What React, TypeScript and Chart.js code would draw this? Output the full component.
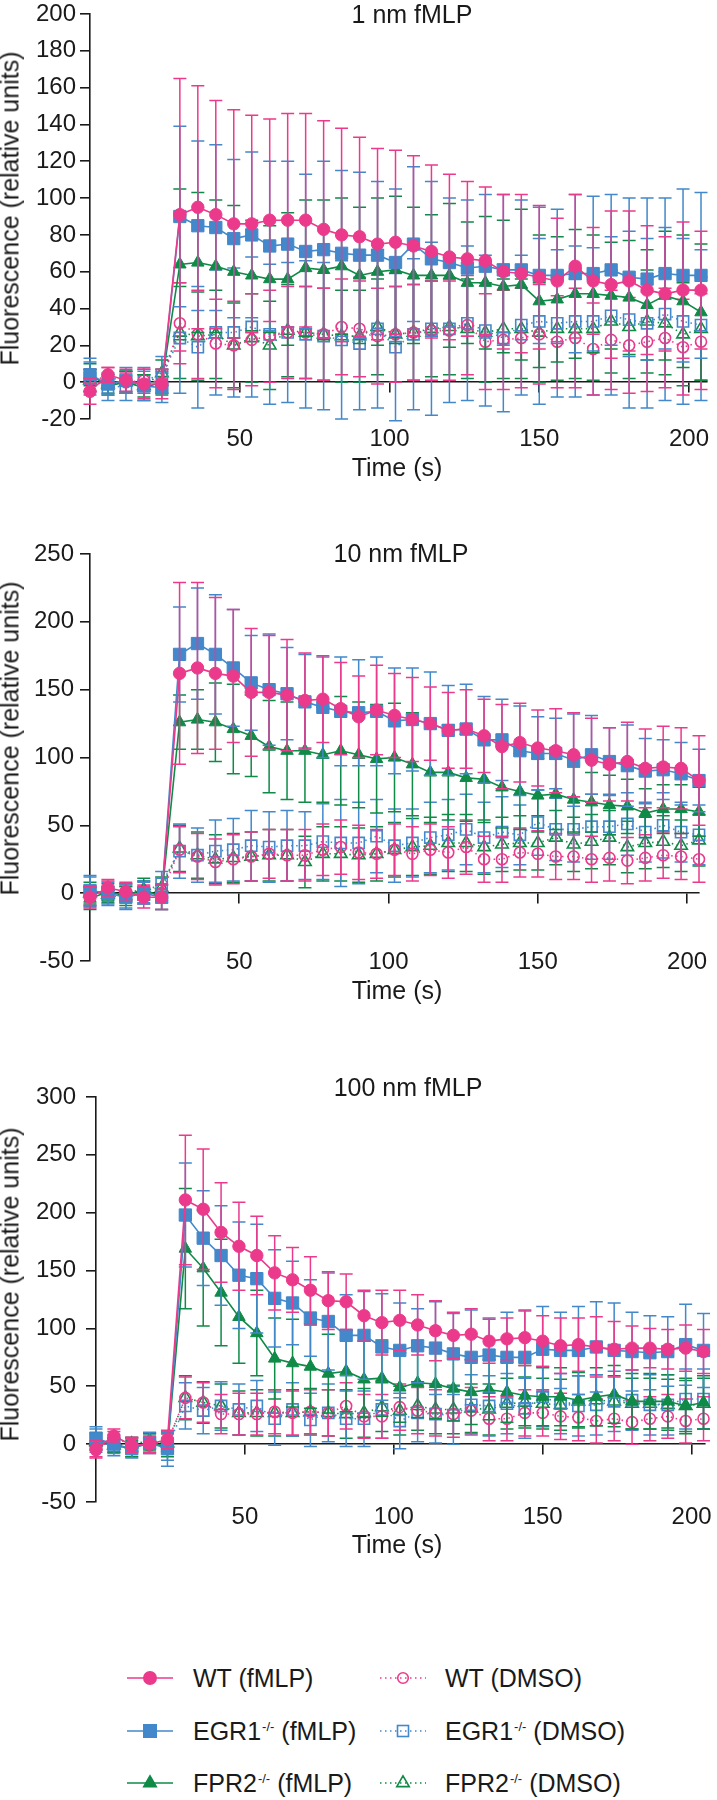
import React, { useEffect, useRef } from 'react';
import { Chart, registerables } from 'chart.js';

Chart.register(...registerables);

const FONT = '"Liberation Sans", Arial, Helvetica, sans-serif';
const INK = '#1a1a1a';
const PINK = '#EB3A8C';
const BLUE = '#4288CA';
const GREEN = '#0F8A47';
const PAGE_W = 717;
const TEXT_SIZE = 25;
const TICK_SIZE = 24;

// ---------------- data ----------------
const TIME = [0, 6, 12, 18, 24, 30, 36, 42, 48, 54, 60, 66, 72, 78, 84, 90, 96, 102, 108, 114, 120, 126, 132, 138, 144, 150, 156, 162, 168, 174, 180, 186, 192, 198, 204];
const X_TICKS = [50, 100, 150, 200];
const Y_TICKS_1 = [-20, 0, 20, 40, 60, 80, 100, 120, 140, 160, 180, 200];
const Y_TICKS_2 = [-50, 0, 50, 100, 150, 200, 250];
const Y_TICKS_3 = [-50, 0, 50, 100, 150, 200, 250, 300];
const PANEL_TITLES = ['1 nm fMLP', '10 nm fMLP', '100 nm fMLP'];
const X_TITLE = 'Time (s)';
const Y_TITLE = 'Fluorescence (relative units)';

const GENOTYPES = ['WT', 'EGR1', 'FPR2', 'WT', 'EGR1', 'FPR2'];
const KO_MARK = ['', '-/-', '-/-', '', '-/-', '-/-'];
const TREATMENTS = ['(fMLP)', '(fMLP)', '(fMLP)', '(DMSO)', '(DMSO)', '(DMSO)'];

// 1 nm fMLP
const WT_FMLP_1 = [-5, 4, 1, -1, -1, 91, 95, 91, 86, 86, 88, 88, 88, 83, 80, 79, 75, 76, 74, 71, 68, 67, 66, 60, 59, 57, 55, 63, 55, 53, 55, 50, 48, 50, 50];
const WT_FMLP_1_SD = [7, 4, 6, 8, 8, 74, 66, 62, 62, 59, 55, 58, 58, 59, 58, 54, 52, 50, 49, 47, 45, 42, 40, 42, 43, 39, 34, 39, 29, 40, 38, 35, 31, 37, 32];
const EGR1_FMLP_1 = [4, -1, 1, -2, -3, 90, 85, 84, 78, 80, 74, 75, 71, 72, 70, 69, 69, 65, 75, 67, 65, 62, 63, 61, 61, 58, 58, 59, 59, 61, 57, 56, 59, 58, 58];
const EGR1_FMLP_1_SD = [9, 6, 7, 8, 8, 49, 46, 45, 43, 45, 46, 45, 42, 48, 45, 45, 40, 40, 42, 42, 35, 37, 39, 41, 38, 37, 36, 43, 42, 41, 43, 44, 41, 47, 45];
const FPR2_FMLP_1 = [4, -2, 0, -3, 0, 64, 65, 63, 60, 58, 56, 56, 62, 61, 63, 58, 60, 61, 58, 58, 58, 54, 54, 52, 53, 44, 45, 48, 48, 47, 46, 42, 47, 44, 38];
const FPR2_FMLP_1_SD = [6, 5, 6, 7, 7, 41, 38, 36, 36, 30, 29, 36, 37, 38, 37, 37, 40, 40, 37, 33, 39, 33, 36, 36, 41, 36, 34, 35, 32, 29, 31, 30, 35, 36, 37];
const WT_DMSO_1 = [1, 3, 0, 1, 0, 32, 26, 21, 20, 23, 25, 27, 27, 26, 30, 29, 25, 26, 27, 28, 28, 31, 22, 23, 24, 26, 22, 24, 18, 23, 20, 22, 24, 19, 22];
const WT_DMSO_1_SD = [6, 5, 5, 6, 6, 22, 24, 24, 24, 25, 25, 25, 25, 25, 26, 26, 26, 26, 26, 27, 27, 27, 26, 27, 27, 27, 25, 27, 25, 27, 26, 27, 27, 26, 26];
const EGR1_DMSO_1 = [2, -3, -2, 1, 4, 24, 19, 27, 27, 30, 26, 27, 26, 25, 23, 21, 29, 19, 26, 29, 29, 32, 28, 24, 31, 33, 32, 33, 33, 36, 34, 32, 37, 33, 31];
const EGR1_DMSO_1_SD = [9, 7, 8, 7, 10, 30, 33, 34, 35, 38, 38, 38, 40, 40, 43, 36, 43, 40, 41, 47, 40, 42, 41, 40, 38, 45, 40, 41, 40, 43, 48, 46, 47, 45, 41];
const FPR2_DMSO_1 = [1, -1, 0, -2, 5, 27, 25, 26, 20, 24, 20, 28, 27, 26, 25, 25, 30, 26, 27, 29, 30, 29, 27, 29, 29, 27, 29, 29, 29, 33, 30, 33, 32, 26, 29];
const FPR2_DMSO_1_SD = [6, 5, 6, 6, 7, 25, 24, 24, 23, 24, 24, 25, 25, 25, 25, 25, 26, 26, 26, 26, 26, 27, 27, 27, 27, 27, 28, 27, 28, 28, 28, 28, 28, 28, 28];

// 10 nm fMLP
const WT_FMLP_2 = [-3, 4, 1, -3, -3, 162, 166, 162, 160, 148, 148, 146, 142, 143, 136, 130, 135, 131, 128, 125, 120, 121, 116, 108, 111, 107, 105, 102, 98, 95, 97, 92, 93, 92, 83];
const WT_FMLP_2_SD = [8, 6, 7, 8, 9, 67, 63, 56, 49, 47, 42, 41, 35, 32, 34, 30, 33, 31, 31, 27, 28, 29, 27, 31, 29, 28, 31, 31, 31, 27, 29, 29, 30, 30, 33];
const EGR1_FMLP_2 = [2, 0, -3, 0, -3, 176, 184, 176, 166, 155, 150, 147, 141, 137, 134, 133, 134, 127, 128, 125, 120, 121, 113, 113, 105, 103, 103, 98, 102, 97, 94, 90, 91, 88, 83];
const EGR1_FMLP_2_SD = [11, 8, 9, 8, 9, 35, 41, 44, 43, 35, 41, 34, 35, 37, 40, 39, 40, 39, 38, 38, 33, 33, 32, 30, 33, 27, 26, 34, 29, 25, 30, 24, 22, 23, 23];
const FPR2_FMLP_2 = [-4, 1, -2, 3, -3, 126, 128, 126, 121, 116, 108, 105, 105, 102, 105, 102, 99, 100, 95, 89, 89, 85, 84, 78, 75, 72, 73, 69, 67, 65, 64, 59, 62, 62, 60];
const FPR2_FMLP_2_SD = [8, 6, 7, 8, 9, 20, 22, 29, 33, 30, 34, 36, 38, 35, 40, 39, 40, 40, 38, 37, 35, 32, 32, 30, 28, 27, 26, 24, 22, 22, 20, 18, 18, 18, 18];
const WT_DMSO_2 = [-2, 3, 1, -1, 0, 32, 27, 23, 25, 27, 29, 28, 28, 32, 34, 30, 29, 32, 29, 32, 30, 34, 25, 25, 30, 29, 27, 27, 25, 26, 24, 26, 28, 27, 25];
const WT_DMSO_2_SD = [7, 6, 6, 7, 7, 17, 17, 17, 18, 18, 18, 19, 19, 19, 20, 20, 18, 19, 20, 19, 19, 20, 17, 17, 18, 17, 17, 17, 17, 17, 17, 17, 17, 17, 17];
const EGR1_DMSO_2 = [1, -2, -3, 1, 7, 31, 28, 31, 32, 35, 34, 35, 35, 38, 37, 37, 42, 35, 37, 41, 43, 47, 41, 45, 43, 52, 47, 47, 49, 49, 51, 45, 50, 45, 43];
const EGR1_DMSO_2_SD = [11, 7, 8, 8, 9, 20, 20, 23, 23, 26, 26, 26, 25, 28, 32, 30, 27, 27, 25, 26, 26, 26, 26, 26, 22, 24, 23, 24, 24, 24, 23, 22, 24, 22, 22];
const FPR2_DMSO_2 = [0, -1, 1, 2, 4, 33, 28, 25, 26, 27, 28, 28, 23, 29, 29, 28, 29, 32, 34, 35, 37, 37, 34, 36, 37, 37, 41, 36, 38, 41, 34, 37, 38, 35, 39];
const FPR2_DMSO_2_SD = [8, 6, 6, 7, 8, 17, 17, 18, 18, 18, 19, 19, 19, 20, 20, 20, 20, 20, 21, 21, 21, 21, 20, 20, 20, 20, 20, 20, 20, 20, 19, 19, 19, 19, 19];

// 100 nm fMLP
const WT_FMLP_3 = [-4, 7, -1, 0, 4, 211, 203, 183, 171, 163, 148, 142, 133, 124, 123, 111, 105, 107, 103, 98, 94, 95, 89, 91, 92, 89, 85, 86, 84, 82, 83, 83, 82, 83, 80];
const WT_FMLP_3_SD = [7, 6, 6, 7, 8, 56, 52, 43, 38, 34, 32, 28, 29, 25, 24, 22, 28, 26, 26, 26, 20, 22, 19, 18, 24, 22, 24, 23, 26, 24, 19, 17, 17, 20, 19];
const EGR1_FMLP_3 = [5, 0, -4, 1, -4, 198, 178, 163, 146, 143, 126, 122, 109, 106, 94, 94, 84, 81, 85, 83, 78, 75, 77, 75, 75, 82, 81, 81, 84, 81, 80, 79, 80, 86, 81];
const EGR1_FMLP_3_SD = [10, 8, 8, 9, 15, 45, 41, 43, 46, 47, 42, 36, 33, 42, 35, 38, 46, 41, 32, 40, 35, 41, 32, 39, 40, 37, 33, 38, 39, 41, 34, 32, 30, 35, 32];
const FPR2_FMLP_3 = [4, -1, -4, 2, -3, 169, 152, 131, 110, 96, 74, 70, 67, 61, 63, 56, 57, 49, 53, 52, 48, 45, 47, 45, 42, 41, 41, 38, 41, 43, 37, 37, 37, 33, 36];
const FPR2_FMLP_3_SD = [6, 6, 7, 7, 8, 52, 50, 46, 40, 37, 35, 38, 36, 34, 35, 33, 33, 30, 30, 30, 28, 28, 26, 26, 26, 25, 25, 24, 25, 25, 24, 24, 23, 24, 23];
const WT_DMSO_3 = [-5, 5, 0, -1, 2, 40, 36, 26, 26, 26, 28, 27, 28, 27, 33, 24, 24, 32, 29, 27, 26, 29, 22, 22, 27, 27, 24, 23, 20, 22, 19, 22, 24, 20, 22];
const WT_DMSO_3_SD = [7, 6, 6, 7, 7, 18, 17, 17, 18, 18, 19, 19, 19, 20, 20, 19, 19, 20, 20, 20, 20, 20, 19, 19, 20, 20, 20, 20, 19, 19, 19, 19, 19, 19, 19];
const EGR1_DMSO_3 = [3, -2, -3, 1, -2, 33, 29, 33, 30, 33, 22, 30, 21, 27, 22, 22, 30, 20, 27, 26, 25, 34, 33, 35, 31, 41, 35, 33, 34, 37, 38, 34, 34, 39, 39];
const EGR1_DMSO_3_SD = [10, 8, 8, 8, 12, 20, 20, 21, 22, 22, 23, 23, 23, 25, 24, 24, 25, 24, 25, 25, 25, 26, 26, 26, 26, 26, 26, 26, 26, 26, 26, 26, 26, 26, 26];
const FPR2_DMSO_3 = [2, -1, 0, 3, 1, 40, 36, 33, 27, 27, 27, 27, 28, 27, 26, 27, 32, 29, 33, 30, 30, 31, 30, 35, 36, 35, 34, 37, 38, 37, 35, 35, 34, 33, 35];
const FPR2_DMSO_3_SD = [7, 6, 6, 7, 8, 19, 18, 19, 19, 20, 20, 20, 20, 20, 21, 21, 21, 21, 21, 21, 21, 21, 22, 22, 22, 22, 22, 22, 22, 22, 22, 22, 22, 22, 22];

// ---------------- styling / layout ----------------
const SERIES_STYLE = [
  { color: PINK, shape: 'circle', filled: true, radius: 6.2 },
  { color: BLUE, shape: 'rect', filled: true, radius: 8.7 },
  { color: GREEN, shape: 'triangle', filled: true, radius: 7.2 },
  { color: PINK, shape: 'circle', filled: false, radius: 5.5 },
  { color: BLUE, shape: 'rect', filled: false, radius: 7.9 },
  { color: GREEN, shape: 'triangle', filled: false, radius: 7.2 },
];

const PANELS = [
  {
    title: PANEL_TITLES[0],
    means: [WT_FMLP_1, EGR1_FMLP_1, FPR2_FMLP_1, WT_DMSO_1, EGR1_DMSO_1, FPR2_DMSO_1],
    sds: [WT_FMLP_1_SD, EGR1_FMLP_1_SD, FPR2_FMLP_1_SD, WT_DMSO_1_SD, EGR1_DMSO_1_SD, FPR2_DMSO_1_SD],
    yMin: -20, yMax: 200, yTicks: Y_TICKS_1, xMax: 206,
    canvasTop: -10, canvasHeight: 500,
    area: { left: 90, right: 707, top: 14, bottom: 419 },
    yTickPad: 4, xLabelPad: 5.6,
    titleX: 412, titleY: 14, xTitleX: 397, xTitleY: 467, yTitleY: 208,
  },
  {
    title: PANEL_TITLES[1],
    means: [WT_FMLP_2, EGR1_FMLP_2, FPR2_FMLP_2, WT_DMSO_2, EGR1_DMSO_2, FPR2_DMSO_2],
    sds: [WT_FMLP_2_SD, EGR1_FMLP_2_SD, FPR2_FMLP_2_SD, WT_DMSO_2_SD, EGR1_DMSO_2_SD, FPR2_DMSO_2_SD],
    yMin: -50, yMax: 250, yTicks: Y_TICKS_2, xMax: 204,
    canvasTop: 520, canvasHeight: 490,
    area: { left: 90, right: 699, top: 554, bottom: 961 },
    yTickPad: 6, xLabelPad: -12.9,
    titleX: 401, titleY: 553, xTitleX: 397, xTitleY: 990, yTitleY: 738,
  },
  {
    title: PANEL_TITLES[2],
    means: [WT_FMLP_3, EGR1_FMLP_3, FPR2_FMLP_3, WT_DMSO_3, EGR1_DMSO_3, FPR2_DMSO_3],
    sds: [WT_FMLP_3_SD, EGR1_FMLP_3_SD, FPR2_FMLP_3_SD, WT_DMSO_3_SD, EGR1_DMSO_3_SD, FPR2_DMSO_3_SD],
    yMin: -50, yMax: 300, yTicks: Y_TICKS_3, xMax: 204.5,
    canvasTop: 1060, canvasHeight: 500,
    area: { left: 96, right: 705, top: 1097, bottom: 1502 },
    yTickPad: 10, xLabelPad: 0.6,
    titleX: 408, titleY: 1087, xTitleX: 397, xTitleY: 1544, yTitleY: 1284,
  },
];

const Y_TITLE_X = 9.5;
const LEGEND_ROW_Y = [1678, 1731, 1783];
const LEGEND_COLS = [
  { symLeft: 127, symWidth: 46, textLeft: 193 },
  { symLeft: 380, symWidth: 46, textLeft: 445 },
];
// offset from the top of a text line box to the centre of its capital letters
const CAP_CENTER = TEXT_SIZE * 0.49;

// ---------------- error bar plugin ----------------
const errorBarPlugin = {
  id: 'errorBars',
  beforeDatasetDraw(chart: any, args: any) {
    const ds = chart.data.datasets[args.index];
    const sd: number[] | undefined = ds.errors;
    if (!sd) return;
    const yScale = chart.scales.y;
    const ctx = chart.ctx;
    const cap = 6.5;
    ctx.save();
    ctx.setLineDash([]);
    ctx.strokeStyle = ds.borderColor;
    ctx.lineWidth = 1.5;
    args.meta.data.forEach((pt: any, i: number) => {
      const v = ds.data[i].y;
      const e = sd[i];
      const x = pt.x;
      const yt = yScale.getPixelForValue(v + e);
      const yb = yScale.getPixelForValue(v - e);
      ctx.beginPath();
      ctx.moveTo(x, yt);
      ctx.lineTo(x, yb);
      ctx.moveTo(x - cap, yt);
      ctx.lineTo(x + cap, yt);
      ctx.moveTo(x - cap, yb);
      ctx.lineTo(x + cap, yb);
      ctx.stroke();
    });
    ctx.restore();
  },
};

function buildConfig(p: any) {
  const padTop = p.area.top - p.canvasTop;
  const padBottom = p.canvasTop + p.canvasHeight - p.area.bottom;
  const padRight = PAGE_W - p.area.right;
  const tickFont = { family: FONT, size: TICK_SIZE };

  const datasets = SERIES_STYLE.map((s, k) => ({
    label: `${GENOTYPES[k]}${KO_MARK[k]} ${TREATMENTS[k]}`,
    data: TIME.map((t, i) => ({ x: t, y: p.means[k][i] })),
    errors: p.sds[k],
    borderColor: s.color,
    backgroundColor: s.filled ? s.color : 'rgba(0,0,0,0)',
    borderWidth: 1.6,
    borderDash: s.filled ? [] : [1.5, 3.5],
    pointStyle: s.shape,
    pointRadius: s.radius,
    pointHoverRadius: s.radius,
    pointBorderWidth: s.filled ? 1 : 1.6,
    pointBackgroundColor: s.filled ? s.color : 'rgba(0,0,0,0)',
    pointBorderColor: s.color,
    tension: 0,
    fill: false,
    clip: false,
  }));

  const xTicks = (s: any) => {
    s.ticks = X_TICKS.map((v) => ({ value: v }));
  };

  return {
    type: 'line',
    data: { datasets },
    plugins: [errorBarPlugin],
    options: {
      animation: false,
      responsive: false,
      devicePixelRatio: 1,
      events: [],
      layout: { padding: { left: 0, right: padRight, top: padTop, bottom: padBottom } },
      plugins: {
        legend: { display: false },
        tooltip: { enabled: false },
        title: { display: false },
      },
      scales: {
        x: {
          type: 'linear',
          min: 0,
          max: p.xMax,
          position: { y: 0 },
          afterBuildTicks: xTicks,
          ticks: { display: false },
          grid: { display: true, drawOnChartArea: false, drawTicks: true, tickLength: 10, color: INK, lineWidth: 1.6 },
          border: { display: true, color: INK, width: 1.6 },
        },
        x2: {
          type: 'linear',
          axis: 'x',
          min: 0,
          max: p.xMax,
          position: { y: p.yMin },
          afterBuildTicks: xTicks,
          ticks: { display: true, padding: p.xLabelPad, font: tickFont, color: INK, maxRotation: 0, autoSkip: false },
          grid: { display: false, drawTicks: false },
          border: { display: false },
        },
        y: {
          type: 'linear',
          min: p.yMin,
          max: p.yMax,
          position: 'left',
          afterBuildTicks: (s: any) => {
            s.ticks = p.yTicks.map((v: number) => ({ value: v }));
          },
          afterFit: (s: any) => {
            s.width = p.area.left;
          },
          ticks: { padding: p.yTickPad, font: tickFont, color: INK, autoSkip: false },
          grid: { display: true, drawOnChartArea: false, drawTicks: true, tickLength: 10, color: INK, lineWidth: 1.6 },
          border: { display: true, color: INK, width: 1.6 },
        },
      },
    },
  };
}

// ---------------- components ----------------
function Label({ text, x, y, center }: { text: string; x: number; y: number; center?: boolean }) {
  return (
    <div
      style={{
        position: 'absolute',
        left: x,
        top: y - CAP_CENTER,
        transform: center ? 'translateX(-50%)' : undefined,
        fontSize: TEXT_SIZE,
        lineHeight: `${TEXT_SIZE}px`,
        whiteSpace: 'nowrap',
      }}
    >
      {text}
    </div>
  );
}

function VLabel({ text, x, y }: { text: string; x: number; y: number }) {
  return (
    <div
      style={{
        position: 'absolute',
        left: x - 200,
        top: y - TEXT_SIZE / 2,
        width: 400,
        height: TEXT_SIZE,
        textAlign: 'center',
        fontSize: TEXT_SIZE,
        lineHeight: `${TEXT_SIZE}px`,
        whiteSpace: 'nowrap',
        transform: 'rotate(-90deg)',
        transformOrigin: '50% 50%',
      }}
    >
      {text}
    </div>
  );
}

function Panel({ panel }: { panel: any }) {
  const ref = useRef<HTMLCanvasElement>(null);
  useEffect(() => {
    if (!ref.current) return;
    const chart = new Chart(ref.current, buildConfig(panel) as any);
    return () => chart.destroy();
  }, [panel]);
  return (
    <>
      <canvas
        ref={ref}
        width={PAGE_W}
        height={panel.canvasHeight}
        style={{ position: 'absolute', left: 0, top: panel.canvasTop, width: PAGE_W, height: panel.canvasHeight }}
      />
      <Label text={panel.title} x={panel.titleX} y={panel.titleY} center />
      <Label text={X_TITLE} x={panel.xTitleX} y={panel.xTitleY} center />
      <VLabel text={Y_TITLE} x={Y_TITLE_X} y={panel.yTitleY} />
    </>
  );
}

function LegendSymbol({ k, left, width, y }: { k: number; left: number; width: number; y: number }) {
  const s = SERIES_STYLE[k];
  const c = s.color;
  const mx = width / 2;
  const cy = 10;
  const fill = s.filled ? c : 'none';
  let marker: any;
  if (s.shape === 'circle') {
    marker = <circle cx={mx} cy={cy} r={s.filled ? 6.2 : 5.3} fill={fill} stroke={c} strokeWidth={1.6} />;
  } else if (s.shape === 'rect') {
    const h = s.filled ? 6.2 : 5.5;
    marker = <rect x={mx - h} y={cy - h} width={2 * h} height={2 * h} fill={fill} stroke={c} strokeWidth={1.6} />;
  } else {
    const r = 7.2;
    const w = (r * Math.sqrt(3)) / 2;
    marker = (
      <polygon
        points={`${mx},${cy - r} ${mx + w},${cy + r / 2} ${mx - w},${cy + r / 2}`}
        fill={fill}
        stroke={c}
        strokeWidth={1.6}
      />
    );
  }
  return (
    <svg style={{ position: 'absolute', left, top: y - cy }} width={width} height={20}>
      <line x1={0} y1={cy} x2={width} y2={cy} stroke={c} strokeWidth={1.6} strokeDasharray={s.filled ? undefined : '1.5 3.5'} />
      {marker}
    </svg>
  );
}

function Legend() {
  return (
    <>
      {SERIES_STYLE.map((_, k) => {
        const col = LEGEND_COLS[k < 3 ? 0 : 1];
        const y = LEGEND_ROW_Y[k % 3];
        return (
          <React.Fragment key={k}>
            <LegendSymbol k={k} left={col.symLeft} width={col.symWidth} y={y} />
            <div
              style={{
                position: 'absolute',
                left: col.textLeft,
                top: y - CAP_CENTER,
                fontSize: TEXT_SIZE,
                lineHeight: `${TEXT_SIZE}px`,
                whiteSpace: 'nowrap',
              }}
            >
              {GENOTYPES[k]}
              {KO_MARK[k] ? (
                <span style={{ fontSize: 13, position: 'relative', top: -9, marginLeft: 1 }}>{KO_MARK[k]}</span>
              ) : null}
              {' '}
              {TREATMENTS[k]}
            </div>
          </React.Fragment>
        );
      })}
    </>
  );
}

export default function App() {
  Chart.defaults.font.family = FONT;
  return (
    <div
      style={{
        position: 'absolute',
        left: 0,
        top: 0,
        width: PAGE_W,
        height: 1800,
        background: '#fff',
        color: INK,
        fontFamily: FONT,
        overflow: 'hidden',
      }}
    >
      {PANELS.map((p, k) => (
        <Panel key={k} panel={p} />
      ))}
      <Legend />
    </div>
  );
}
